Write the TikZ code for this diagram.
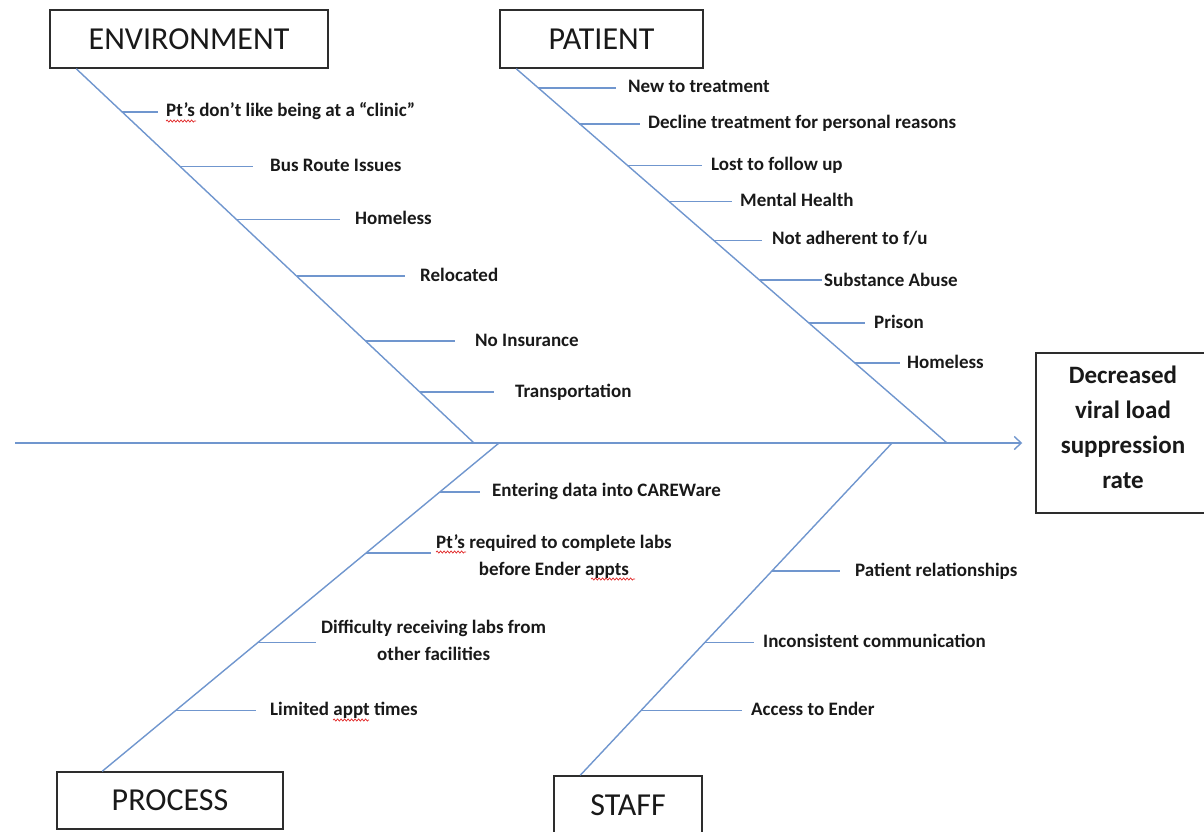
\documentclass[tikz,border=0pt]{standalone}
\usepackage{fontspec}
\setmainfont{Carlito}
\usetikzlibrary{calc,arrows.meta,decorations.pathmorphing}
\definecolor{bonec}{RGB}{112,150,206}
\definecolor{boxc}{RGB}{45,45,45}
\definecolor{txtc}{RGB}{25,25,25}
\definecolor{squigc}{RGB}{225,40,40}
\newcommand\twigto[3]{\draw[twig] (#1) -- ($(#2.west |- #1)+(-#3,0)$);}
\begin{document}
\begin{tikzpicture}[x=1pt,y=-1pt,
  bone/.style={draw=bonec,line width=1.4pt},
  twig/.style={draw=bonec,line width=1.8pt},
  catbox/.style={draw=boxc,line width=1.5pt,fill=white,inner sep=0pt,font=\fontsize{32}{36}\selectfont,text=txtc},
  lbl/.style={anchor=west,inner sep=0pt,text height=13pt,text depth=5pt,font=\bfseries\fontsize{19}{27}\selectfont,text=txtc},
  lbltwo/.style={anchor=west,inner sep=0pt,align=center,font=\bfseries\fontsize{19}{27}\selectfont,text=txtc},
  efft/.style={inner sep=0pt,align=center,font=\bfseries\fontsize{25}{35}\selectfont,text=txtc},
  squig/.style={draw=squigc,line width=0.7pt,decorate,decoration={snake,amplitude=1.1pt,segment length=3.5pt}},
]
\useasboundingbox (0,0) rectangle (1204,831);

% category boxes
\node[catbox,minimum width=278pt,minimum height=58pt] (env) at (189,39) {ENVIRONMENT};
\node[catbox,minimum width=203pt,minimum height=58pt] (pat) at (601.5,39) {PATIENT};
\node[catbox,minimum width=226pt,minimum height=57pt] (proc) at (170,800.5) {PROCESS};
\node[catbox,minimum width=148pt,minimum height=58pt] (staff) at (628,805) {STAFF};
% effect box
\node[catbox,minimum width=174pt,minimum height=160pt] (eff) at (1123,433) {};
\node[efft] (efftxt) at (1123,427) {Decreased\\viral load\\suppression\\rate};

% spine
\coordinate (tail) at (15,443);
\draw[bone,-{Straight Barb[length=7pt,width=13pt]}] (tail) -- ($(tail -| eff.west)+(-13,0)$);

% bones
\coordinate (envS) at ($(env.south west)+(27,0)$);
\coordinate (envE) at (474,443);
\coordinate (patS) at ($(pat.south west)+(17,0)$);
\coordinate (patE) at (947,443);
\coordinate (procS) at (499,443);
\coordinate (procE) at ($(proc.north west)+(46,0)$);
\coordinate (staffS) at (892,443);
\coordinate (staffE) at ($(staff.north west)+(27,0)$);
\draw[bone] (envS) -- (envE);
\draw[bone] (patS) -- (patE);
\draw[bone] (procS) -- (procE);
\draw[bone] (staffS) -- (staffE);

% ENVIRONMENT causes
\coordinate (e1) at ($(envS)!0.1147!(envE)$);
\coordinate (e2) at ($(envS)!0.2613!(envE)$);
\coordinate (e3) at ($(envS)!0.4027!(envE)$);
\coordinate (e4) at ($(envS)!0.5547!(envE)$);
\coordinate (e5) at ($(envS)!0.7280!(envE)$);
\coordinate (e6) at ($(envS)!0.8640!(envE)$);
\node[lbl] (le1) at (166,112) {Pt’s don’t like being at a “clinic”};
\node[lbl] (le2) at (270,167) {Bus Route Issues};
\node[lbl] (le3) at (355,220) {Homeless};
\node[lbl] (le4) at (420,277) {Relocated};
\node[lbl] (le5) at (475,342) {No Insurance};
\node[lbl] (le6) at (515,393) {Transportation};
\twigto{e1}{le1}{8}
\twigto{e2}{le2}{17}
\twigto{e3}{le3}{15}
\twigto{e4}{le4}{15}
\twigto{e5}{le5}{20}
\twigto{e6}{le6}{21}

% PATIENT causes
\coordinate (p1) at ($(patS)!0.0507!(patE)$);
\coordinate (p2) at ($(patS)!0.1467!(patE)$);
\coordinate (p3) at ($(patS)!0.2587!(patE)$);
\coordinate (p4) at ($(patS)!0.3547!(patE)$);
\coordinate (p5) at ($(patS)!0.4587!(patE)$);
\coordinate (p6) at ($(patS)!0.5653!(patE)$);
\coordinate (p7) at ($(patS)!0.6800!(patE)$);
\coordinate (p8) at ($(patS)!0.7867!(patE)$);
\node[lbl] (lp1) at (628,88) {New to treatment};
\node[lbl] (lp2) at (648,124) {Decline treatment for personal reasons};
\node[lbl] (lp3) at (711,166) {Lost to follow up};
\node[lbl] (lp4) at (740,202) {Mental Health};
\node[lbl] (lp5) at (772,240) {Not adherent to f/u};
\node[lbl] (lp6) at (824,282) {Substance Abuse};
\node[lbl] (lp7) at (874,324) {Prison};
\node[lbl] (lp8) at (907,364) {Homeless};
\twigto{p1}{lp1}{12}
\twigto{p2}{lp2}{8}
\twigto{p3}{lp3}{9}
\twigto{p4}{lp4}{8}
\twigto{p5}{lp5}{10}
\twigto{p6}{lp6}{2}
\twigto{p7}{lp7}{9}
\twigto{p8}{lp8}{7}

% PROCESS causes
\coordinate (r1) at ($(procS)!0.1489!(procE)$);
\coordinate (r2) at ($(procS)!0.3343!(procE)$);
\coordinate (r3) at ($(procS)!0.6079!(procE)$);
\coordinate (r4) at ($(procS)!0.8146!(procE)$);
\node[lbl] (lr1) at (492,492) {Entering data into CAREWare};
\node[lbltwo] (lr2) at (436,557) {Pt’s required to complete labs\\before Ender appts};
\node[lbltwo] (lr3) at (321,640) {Difficulty receiving labs from\\other facilities};
\node[lbl] (lr4) at (270,711) {Limited appt times};
\twigto{r1}{lr1}{12}
\twigto{r2}{lr2}{5}
\twigto{r3}{lr3}{5}
\twigto{r4}{lr4}{14}

% STAFF causes
\coordinate (s1) at ($(staffS)!0.3844!(staffE)$);
\coordinate (s2) at ($(staffS)!0.6006!(staffE)$);
\coordinate (s3) at ($(staffS)!0.8048!(staffE)$);
\node[lbl] (ls1) at (855,572) {Patient relationships};
\node[lbl] (ls2) at (763,643) {Inconsistent communication};
\node[lbl] (ls3) at (751,711) {Access to Ender};
\twigto{s1}{ls1}{15}
\twigto{s2}{ls2}{9}
\twigto{s3}{ls3}{9}

% spell-check squiggles
\draw[squig] ($(le1.west)+(0,9)$) -- ($(le1.west)+(30,9)$);
\draw[squig] ($(lr2.west)+(0,-5)$) -- ($(lr2.west)+(30,-5)$);
\draw[squig] ($(lr2.west)+(155,22)$) -- ($(lr2.west)+(199,22)$);
\draw[squig] ($(lr4.west)+(63,9)$) -- ($(lr4.west)+(99,9)$);
\end{tikzpicture}
\end{document}
